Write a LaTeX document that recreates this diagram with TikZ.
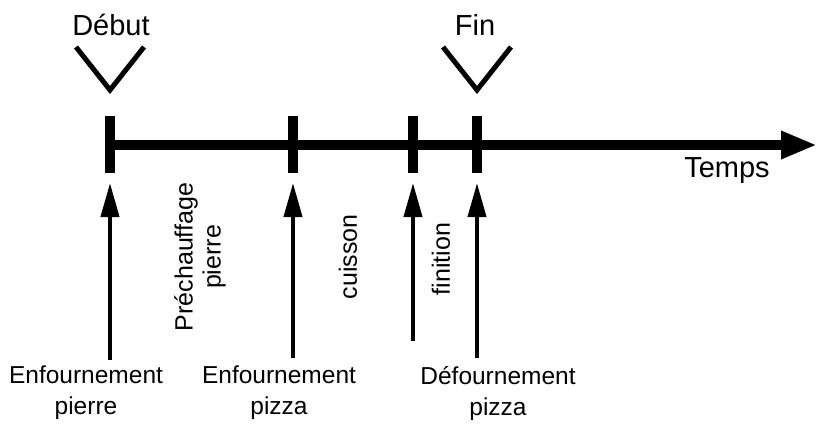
\documentclass[tikz,border=0pt]{standalone}
\usepackage{fontspec}
\setmainfont{Liberation Sans}
\usetikzlibrary{arrows.meta, positioning}

\begin{document}
\begin{tikzpicture}[
    x=1pt, y=-1pt,
    lbl/.style={font=\fontsize{24.5}{31}\selectfont, inner sep=0pt, align=center},
    biglbl/.style={lbl, font=\fontsize{29}{34}\selectfont},
    phase/.style={lbl, rotate=90, font=\fontsize{25}{28}\selectfont},
    timeaxis/.style={line width=10pt, -{Triangle[length=36pt, width=26pt]}},
    tickmark/.style={line width=10pt},
    marker/.style={line width=5pt, line join=miter},
    connector/.style={line width=4pt, -{Triangle[length=34pt, width=18pt]}},
]
\useasboundingbox (0,0) rectangle (826,426);

% Time axis
\coordinate (origin) at (110,145);
\coordinate (axisend) at (817,145);
\draw[timeaxis] (origin) -- (axisend);
\node[biglbl] (temps) at (727,171) {Temps};

% Ticks on the axis
\foreach \name/\x in {t1/110, t2/293, t3/413, t4/477} {
    \coordinate (\name) at (\x,145);
    \draw[tickmark] ([yshift=-28pt]\name) -- ([yshift=29pt]\name);
}

% Start and end markers
\node[biglbl] (debut) at (111,25) {Début};
\draw[marker] (76,47) -- (110,90) -- (144,47);
\node[biglbl] (fin) at (475,25) {Fin};
\draw[marker] (443,47) -- (477,90) -- (511,47);

% Events (arrows pointing up to the axis)
\coordinate (e1) at (110,360);
\coordinate (e2) at (293,358);
\coordinate (e3) at (413,341);
\coordinate (e4) at (477,358);
\foreach \e/\t in {e1/t1, e2/t2, e3/t3, e4/t4} {
    \draw[connector] (\e) -- ([yshift=-38pt]\t);
}

\node[lbl, anchor=north] (enfp) at (86,366) {Enfournement\\pierre};
\node[lbl, anchor=north] (enfz) at (279,366) {Enfournement\\pizza};
\node[lbl, anchor=north] (defz) at (498,366) {Défournement\\pizza};

% Phases
\node[phase] (prech) at (200,257) {Préchauffage\\pierre};
\node[phase] (cuis) at (348,257) {cuisson};
\node[phase] (fini) at (441,259) {finition};

\end{tikzpicture}
\end{document}
